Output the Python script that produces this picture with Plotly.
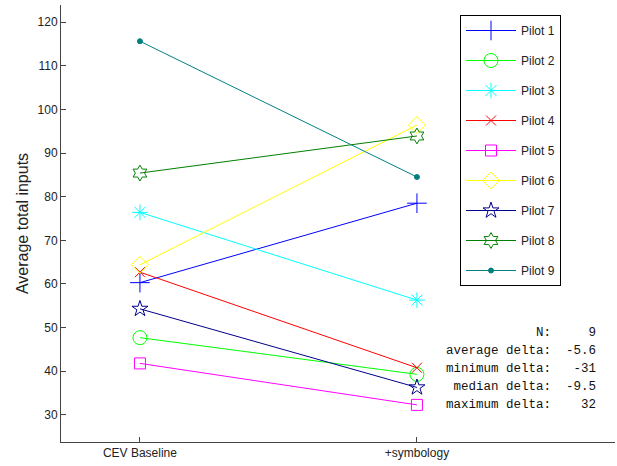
import plotly.graph_objects as go
import statistics

categories = ["CEV Baseline", "+symbology"]
pilots = ["Pilot 1", "Pilot 2", "Pilot 3", "Pilot 4", "Pilot 5",
          "Pilot 6", "Pilot 7", "Pilot 8", "Pilot 9"]
baseline = [60.3, 47.7, 76.4, 62.7, 41.8, 64.4, 54.3, 85.4, 115.6]
symbology = [78.5, 39.3, 56.3, 40.8, 32.3, 96.4, 36.3, 93.9, 84.5]
yticks = [30, 40, 50, 60, 70, 80, 90, 100, 110, 120]

colors = ["#0000ff", "#00ff00", "#00ffff", "#ff0000", "#ff00ff",
          "#ffff00", "#00008b", "#008000", "#008080"]
symbols = ["cross-thin-open", "circle-open", "asterisk-open", "x-thin-open",
           "square-open", "diamond-open", "star-open", "hexagram-open", "circle"]
sizes = [14, 14, 13, 10, 11, 13, 12, 12, 5]

fig = go.Figure()
for i, name in enumerate(pilots):
    fig.add_trace(go.Scatter(
        x=categories, y=[baseline[i], symbology[i]], name=name,
        mode="lines+markers", legendgroup=name,
        line=dict(color=colors[i], width=1),
        marker=dict(symbol=symbols[i], size=sizes[i], color=colors[i],
                    line=dict(color=colors[i], width=1)),
    ))

deltas = [b - a for a, b in zip(baseline, symbology)]
stats = [("N:", len(deltas)),
         ("average delta:", statistics.mean(deltas)),
         ("minimum delta:", min(deltas)),
         ("median delta:", statistics.median(deltas)),
         ("maximum delta:", max(deltas))]

NB = "\u00a0"
annotations = []
line_y = [333, 351, 369, 386.5, 404.5]
for (lab, val), yy in zip(stats, line_y):
    txt = lab.rjust(14) + format(val, ".2g").rjust(6)
    txt = txt.replace(" ", NB)
    annotations.append(dict(
        text=txt, xref="paper", yref="paper",
        x=(598 - 61) / 554, y=(442 - yy) / 437,
        xanchor="right", yanchor="middle", showarrow=False,
        font=dict(family="Liberation Mono, Courier New, monospace", size=12.5, color="#111"),
    ))

fig.update_layout(
    width=617, height=466,
    margin=dict(l=61, r=2, t=5, b=24),
    paper_bgcolor="white", plot_bgcolor="white",
    font=dict(family="Liberation Sans, Arial, sans-serif", size=12, color="#222"),
    showlegend=True,
    legend=dict(x=(460 - 61) / 554, y=(442 - 15) / 437, xanchor="left", yanchor="top",
                bgcolor="white", bordercolor="black", borderwidth=1,
                tracegroupgap=11, font=dict(size=12), itemwidth=50),
    annotations=annotations,
    xaxis=dict(type="category", range=[-0.285, 1.715], showgrid=False, zeroline=False,
               showline=True, linecolor="#444", linewidth=1, automargin=False,
               ticks="inside", ticklen=5, tickcolor="#444",
               tickfont=dict(size=12)),
    yaxis=dict(range=[23.8, 123.9], tickvals=yticks, showgrid=False, zeroline=False,
               showline=True, linecolor="#444", linewidth=1, automargin=False,
               ticks="inside", ticklen=5, tickcolor="#444",
               tickfont=dict(size=12),
               title=dict(text="Average total inputs", font=dict(size=16), standoff=4)),
)

fig.write_html("out.html", config={"displayModeBar": False},
               post_script="document.body.style.margin='0';")
